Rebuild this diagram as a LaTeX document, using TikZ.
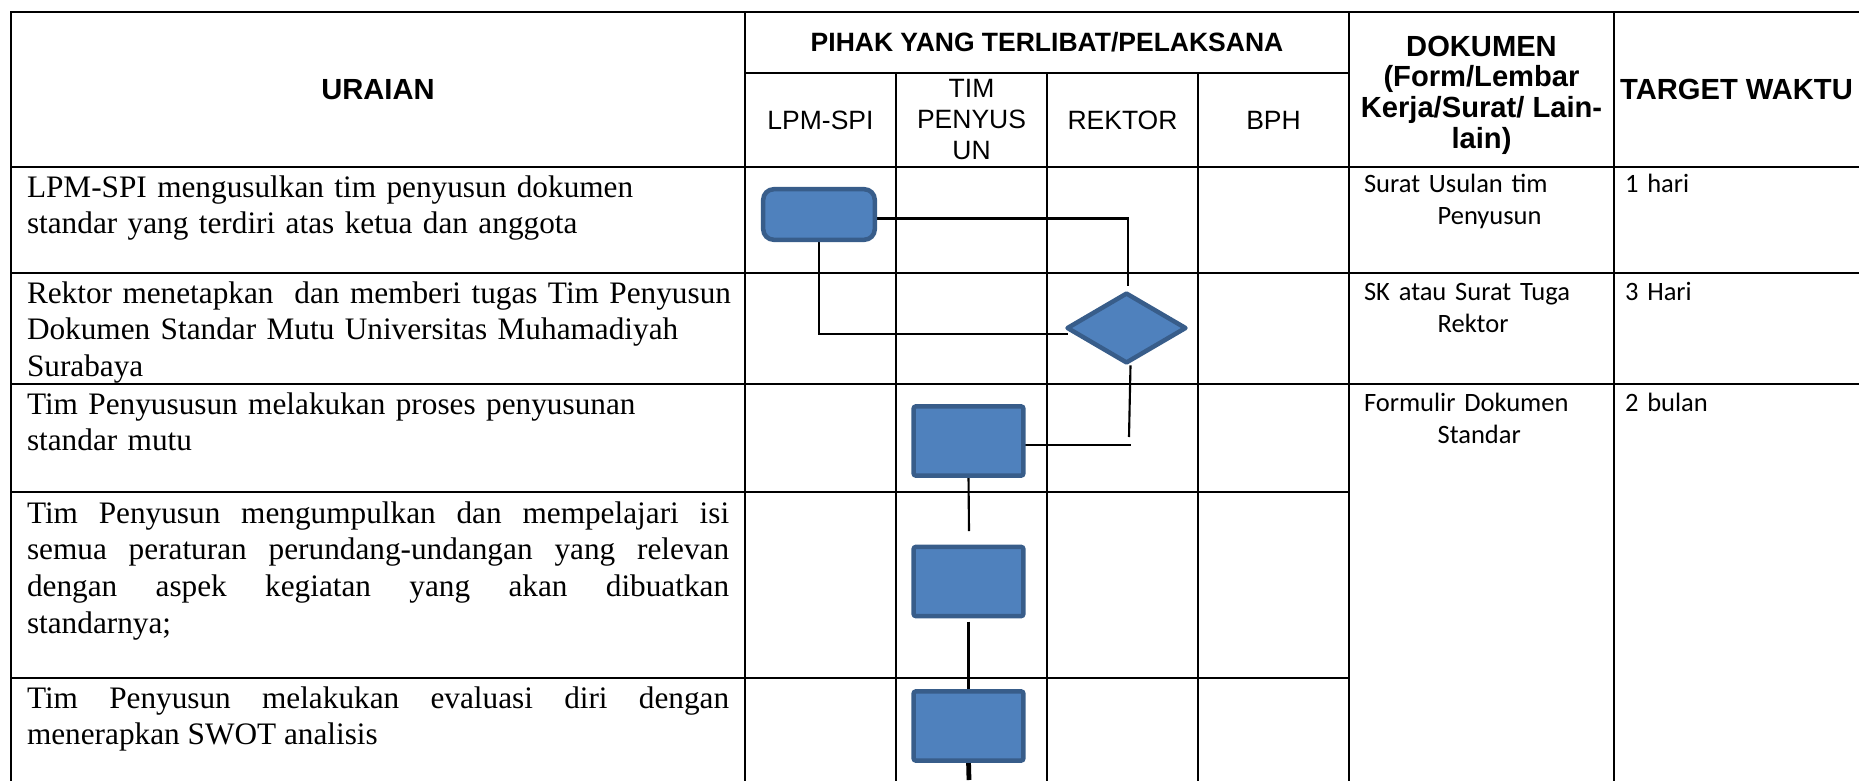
\documentclass[tikz,border=0pt]{standalone}
\usepackage{fontspec}
\setmainfont{Liberation Serif}
\newfontfamily\arialfont{Liberation Sans}
\newfontfamily\calibrifont{Carlito}
\usepackage{tikz}
\usetikzlibrary{shapes.geometric,backgrounds}
\pgfdeclarelayer{background}
\pgfsetlayers{background,main}
\usepackage{xcolor}
\definecolor{flowblue}{RGB}{79,129,189}
\definecolor{flowedge}{RGB}{56,93,138}

\begin{document}
\begin{tikzpicture}[
  x=0.3774pt, y=-0.3774pt,
  every node/.style={inner sep=0pt, outer sep=0pt},
  grid/.style={line width=0.85pt, line cap=rect},
  link/.style={line width=0.8pt},
  linkthick/.style={line width=1.8pt},
  headbig/.style={font=\arialfont\bfseries\fontsize{11}{12.6}\selectfont, align=center},
  headdok/.style={font=\arialfont\bfseries\fontsize{11}{11.6}\selectfont, align=center},
  headsmall/.style={font=\arialfont\bfseries\fontsize{10}{11.7}\selectfont, align=center},
  subhead/.style={font=\arialfont\fontsize{10}{11.7}\selectfont, align=center},
  uraian/.style={anchor=base west, font=\fontsize{11.8}{13.9}\selectfont,
    text width=300pt, align=left},
  uraianjust/.style={uraian, text width=265pt, align=justify,
    execute at begin node=\sloppy},
  dok/.style={anchor=base west, font=\calibrifont\fontsize{10}{12.2}\selectfont,
    text width=95pt, align=left},
  startbox/.style={draw=flowedge, fill=flowblue, line width=1.7pt,
    rounded corners=4pt, minimum width=42.1pt, minimum height=19.1pt},
  procbox/.style={draw=flowedge, fill=flowblue, line width=1.7pt,
    rounded corners=1pt, minimum width=41.5pt, minimum height=26.2pt},
  decide/.style={diamond, draw=flowedge, fill=flowblue, line width=1.7pt,
    line join=round, minimum width=44.5pt, minimum height=26pt},
]
\useasboundingbox (0,0) rectangle (1859,780);

% ── GRID ── (pixel units, y downwards)
\draw[grid] (11,12)    -- (1859,12);
\draw[grid] (745,73)   -- (1349,73);
\draw[grid] (11,167)   -- (1859,167);
\draw[grid] (11,273)   -- (1859,273);
\draw[grid] (11,384)   -- (1859,384);
\draw[grid] (11,492)   -- (1349,492);
\draw[grid] (11,678)   -- (1349,678);
\foreach \x in {11,745,1349,1614} \draw[grid] (\x,12) -- (\x,780);
\foreach \x in {896,1047,1198} \draw[grid] (\x,73) -- (\x,780);

% ── HEADER ──
\node[headbig]   at ( 378.0, 89.5) (uraianHead) {URAIAN};
\node[headsmall] at (1047.0, 42.5) (pihakHead)  {PIHAK YANG TERLIBAT/PELAKSANA};
\node[subhead]   at ( 820.5,120.0) (lpmHead)    {LPM-SPI};
\node[subhead]   at ( 971.5,120.0) (timHead)    {TIM\\PENYUS\\UN};
\node[subhead]   at (1122.5,120.0) (rektorHead) {REKTOR};
\node[subhead]   at (1273.5,120.0) (bphHead)    {BPH};
\node[headdok]   at (1481.5, 95.0) (dokHead)    {DOKUMEN\\(Form/Lembar\\Kerja/Surat/ Lain-\\lain)};
\node[headbig]   at (1736.5, 89.5) (targetHead) {TARGET WAKTU};

% ── URAIAN ──
\node[uraian]     at (27,197) (row1) {LPM-SPI mengusulkan tim penyusun dokumen\\standar yang terdiri atas ketua dan anggota};
\node[uraian]     at (27,303) (row2) {Rektor menetapkan\ \ dan memberi tugas Tim Penyusun\\Dokumen Standar Mutu Universitas Muhamadiyah\\Surabaya};
\node[uraian]     at (27,414) (row3) {Tim Penyususun melakukan proses penyusunan\\standar mutu};
\node[uraianjust] at (27,523) (row4) {Tim Penyusun mengumpulkan dan mempelajari isi\linebreak semua peraturan perundang-undangan yang relevan\linebreak dengan aspek kegiatan yang akan dibuatkan\linebreak standarnya;};
\node[uraianjust] at (27,708) (row5) {Tim Penyusun melakukan evaluasi diri dengan\linebreak menerapkan SWOT analisis};

% ── DOKUMEN + TARGET ──
\node[dok] at (1364,192) (dok1) {Surat Usulan tim\\\hspace*{27.8pt}Penyusun};
\node[dok] at (1364,300) (dok2) {SK atau Surat Tuga\\\hspace*{27.8pt}Rektor};
\node[dok] at (1364,411) (dok3) {Formulir Dokumen\\\hspace*{27.8pt}Standar};
\node[dok] at (1625,192) (wkt1) {1 hari};
\node[dok] at (1625,300) (wkt2) {3 Hari};
\node[dok] at (1625,411) (wkt3) {2 bulan};

% ── FLOW ──
\node[startbox] at ( 819.0,214.5) (usul)     {};
\node[decide]   at (1126.5,328.0) (tetap)    {};
\node[procbox]  at ( 968.5,441.0) (susun)    {};
\node[procbox]  at ( 968.5,581.5) (kumpul)   {};
\node[procbox]  at ( 968.5,726.0) (evaluasi) {};

\coordinate (tetapIn)   at (1128,286);
\coordinate (tetapLeft) at (1068,334);
\coordinate (tetapOut)  at (1129,437);
\coordinate (susunIn)   at (1131,445);
\coordinate (kumpulIn)  at (969,531);
\coordinate (pageEnd)   at (969,780);

\begin{pgfonlayer}{background}

% usul -> tetap
\draw[link] ([yshift=-1.5pt]usul.east) -| (tetapIn);
\draw[link] (usul.south) |- (tetapLeft);

% tetap -> susun
\draw[link] ([shift={(4,3)}]tetap.south) -- (tetapOut);
\draw[link] (susun.east |- susunIn) -- (susunIn);

% susun -> kumpul -> evaluasi
\draw[link] (susun.south) -- (kumpulIn);
\draw[link] ([yshift=-2pt]kumpul.south) -- (evaluasi.north);
\draw[linkthick] (evaluasi.south) -- (pageEnd);

\end{pgfonlayer}

\end{tikzpicture}
\end{document}
